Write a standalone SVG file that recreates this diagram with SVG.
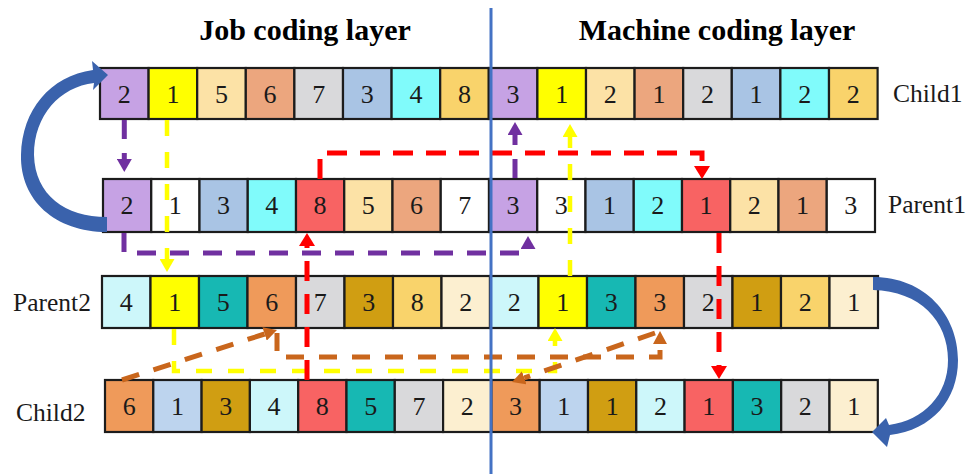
<svg xmlns="http://www.w3.org/2000/svg" width="969" height="474" viewBox="0 0 969 474">
  <style>
    .cell rect { stroke: #1c1c1c; stroke-width: 2.2; }
    .cell text { font-family: "Liberation Serif", "Times New Roman", serif; font-size: 26px; fill: #1a1a1a; text-anchor: middle; }
    .label { font-family: "Liberation Serif", "Times New Roman", serif; font-size: 25.5px; fill: #1a1a1a; }
    .title { font-family: "Liberation Serif", "Times New Roman", serif; font-size: 30px; font-weight: bold; fill: #000; text-anchor: middle; }
    .pu { fill: #C6A2E4; } .ye { fill: #FFFF00; } .pe { fill: #FCE2A6; } .sa { fill: #ECA67E; }
    .gr { fill: #D9D9DB; } .lb { fill: #A9C4E4; } .cy { fill: #80FBFB; } .go { fill: #F9D36B; }
    .wh { fill: #FFFFFF; } .rd { fill: #F86363; } .lc { fill: #CDF7FA; } .te { fill: #17B8B3; }
    .or { fill: #EF9A5A; } .dg { fill: #D09E12; } .cr { fill: #FCEFD0; } .lb2 { fill: #BDD4EE; }
    .link { fill: none; }
    .purple { stroke: #7030A0; stroke-width: 5; stroke-dasharray: 19 14; marker-end: url(#ah-pu); }
    .yellow { stroke: #FFFF00; stroke-width: 4.5; stroke-dasharray: 16 16; marker-end: url(#ah-ye); }
    .red { stroke: #FF0000; stroke-width: 5; stroke-dasharray: 20 13; marker-end: url(#ah-rd); }
    .orange { stroke: #C9661C; stroke-width: 5; stroke-dasharray: 18 15; marker-end: url(#ah-or); }
    .swap { fill: #3A62AC; }
  </style>
  <defs>
    <marker id="ah-pu" viewBox="0 0 13 15" refX="0" refY="7.5" markerWidth="13" markerHeight="15" markerUnits="userSpaceOnUse" orient="auto"><path d="M0,0 L13,7.5 L0,15 Z" fill="#7030A0"/></marker>
    <marker id="ah-ye" viewBox="0 0 13 15" refX="0" refY="7.5" markerWidth="13" markerHeight="15" markerUnits="userSpaceOnUse" orient="auto"><path d="M0,0 L13,7.5 L0,15 Z" fill="#FFFF00"/></marker>
    <marker id="ah-rd" viewBox="0 0 13 16" refX="0" refY="8" markerWidth="13" markerHeight="16" markerUnits="userSpaceOnUse" orient="auto"><path d="M0,0 L13,8 L0,16 Z" fill="#FF0000"/></marker>
    <marker id="ah-or" viewBox="0 0 13 14" refX="0" refY="7" markerWidth="13" markerHeight="14" markerUnits="userSpaceOnUse" orient="auto"><path d="M0,0 L13,7 L0,14 Z" fill="#C9661C"/></marker>
  </defs>

  <rect width="969" height="474" fill="#FFFFFF"/>

  <!-- layer headings -->
  <text class="title" x="305" y="40">Job coding layer</text>
  <text class="title" x="717" y="40">Machine coding layer</text>

  <!-- Child1 chromosome -->
  <g id="child1">
    <g id="child1-1" class="cell" transform="translate(100,68)"><rect class="pu" width="48.6" height="51"/><text x="24.3" y="34.5">2</text></g>
    <g id="child1-2" class="cell" transform="translate(148.6,68)"><rect class="ye" width="48.6" height="51"/><text x="24.3" y="34.5">1</text></g>
    <g id="child1-3" class="cell" transform="translate(197.2,68)"><rect class="pe" width="48.6" height="51"/><text x="24.3" y="34.5">5</text></g>
    <g id="child1-4" class="cell" transform="translate(245.8,68)"><rect class="sa" width="48.6" height="51"/><text x="24.3" y="34.5">6</text></g>
    <g id="child1-5" class="cell" transform="translate(294.4,68)"><rect class="gr" width="48.6" height="51"/><text x="24.3" y="34.5">7</text></g>
    <g id="child1-6" class="cell" transform="translate(343,68)"><rect class="lb" width="48.6" height="51"/><text x="24.3" y="34.5">3</text></g>
    <g id="child1-7" class="cell" transform="translate(391.6,68)"><rect class="cy" width="48.6" height="51"/><text x="24.3" y="34.5">4</text></g>
    <g id="child1-8" class="cell" transform="translate(440.2,68)"><rect class="go" width="48.6" height="51"/><text x="24.3" y="34.5">8</text></g>
    <g id="child1-9" class="cell" transform="translate(488.8,68)"><rect class="pu" width="48.6" height="51"/><text x="24.3" y="34.5">3</text></g>
    <g id="child1-10" class="cell" transform="translate(537.4,68)"><rect class="ye" width="48.6" height="51"/><text x="24.3" y="34.5">1</text></g>
    <g id="child1-11" class="cell" transform="translate(586,68)"><rect class="pe" width="48.6" height="51"/><text x="24.3" y="34.5">2</text></g>
    <g id="child1-12" class="cell" transform="translate(634.6,68)"><rect class="sa" width="48.6" height="51"/><text x="24.3" y="34.5">1</text></g>
    <g id="child1-13" class="cell" transform="translate(683.2,68)"><rect class="gr" width="48.6" height="51"/><text x="24.3" y="34.5">2</text></g>
    <g id="child1-14" class="cell" transform="translate(731.8,68)"><rect class="lb" width="48.6" height="51"/><text x="24.3" y="34.5">1</text></g>
    <g id="child1-15" class="cell" transform="translate(780.4,68)"><rect class="cy" width="48.6" height="51"/><text x="24.3" y="34.5">2</text></g>
    <g id="child1-16" class="cell" transform="translate(829,68)"><rect class="go" width="48.6" height="51"/><text x="24.3" y="34.5">2</text></g>
    <text class="label" x="893" y="102">Child1</text>
  </g>

  <!-- Parent1 chromosome -->
  <g id="parent1">
    <g id="parent1-1" class="cell" transform="translate(103,179)"><rect class="pu" width="48.25" height="53"/><text x="24.1" y="35">2</text></g>
    <g id="parent1-2" class="cell" transform="translate(151.25,179)"><rect class="wh" width="48.25" height="53"/><text x="24.1" y="35">1</text></g>
    <g id="parent1-3" class="cell" transform="translate(199.5,179)"><rect class="lb" width="48.25" height="53"/><text x="24.1" y="35">3</text></g>
    <g id="parent1-4" class="cell" transform="translate(247.75,179)"><rect class="cy" width="48.25" height="53"/><text x="24.1" y="35">4</text></g>
    <g id="parent1-5" class="cell" transform="translate(296,179)"><rect class="rd" width="48.25" height="53"/><text x="24.1" y="35">8</text></g>
    <g id="parent1-6" class="cell" transform="translate(344.25,179)"><rect class="pe" width="48.25" height="53"/><text x="24.1" y="35">5</text></g>
    <g id="parent1-7" class="cell" transform="translate(392.5,179)"><rect class="sa" width="48.25" height="53"/><text x="24.1" y="35">6</text></g>
    <g id="parent1-8" class="cell" transform="translate(440.75,179)"><rect class="wh" width="48.25" height="53"/><text x="24.1" y="35">7</text></g>
    <g id="parent1-9" class="cell" transform="translate(489,179)"><rect class="pu" width="48.25" height="53"/><text x="24.1" y="35">3</text></g>
    <g id="parent1-10" class="cell" transform="translate(537.25,179)"><rect class="wh" width="48.25" height="53"/><text x="24.1" y="35">3</text></g>
    <g id="parent1-11" class="cell" transform="translate(585.5,179)"><rect class="lb" width="48.25" height="53"/><text x="24.1" y="35">1</text></g>
    <g id="parent1-12" class="cell" transform="translate(633.75,179)"><rect class="cy" width="48.25" height="53"/><text x="24.1" y="35">2</text></g>
    <g id="parent1-13" class="cell" transform="translate(682,179)"><rect class="rd" width="48.25" height="53"/><text x="24.1" y="35">1</text></g>
    <g id="parent1-14" class="cell" transform="translate(730.25,179)"><rect class="pe" width="48.25" height="53"/><text x="24.1" y="35">2</text></g>
    <g id="parent1-15" class="cell" transform="translate(778.5,179)"><rect class="sa" width="48.25" height="53"/><text x="24.1" y="35">1</text></g>
    <g id="parent1-16" class="cell" transform="translate(826.75,179)"><rect class="wh" width="48.25" height="53"/><text x="24.1" y="35">3</text></g>
    <text class="label" x="888" y="213">Parent1</text>
  </g>

  <!-- Parent2 chromosome -->
  <g id="parent2">
    <text class="label" x="13" y="311">Parent2</text>
    <g id="parent2-1" class="cell" transform="translate(102,276)"><rect class="lc" width="48.5" height="52"/><text x="24.25" y="35">4</text></g>
    <g id="parent2-2" class="cell" transform="translate(150.5,276)"><rect class="ye" width="48.5" height="52"/><text x="24.25" y="35">1</text></g>
    <g id="parent2-3" class="cell" transform="translate(199,276)"><rect class="te" width="48.5" height="52"/><text x="24.25" y="35">5</text></g>
    <g id="parent2-4" class="cell" transform="translate(247.5,276)"><rect class="or" width="48.5" height="52"/><text x="24.25" y="35">6</text></g>
    <g id="parent2-5" class="cell" transform="translate(296,276)"><rect class="gr" width="48.5" height="52"/><text x="24.25" y="35">7</text></g>
    <g id="parent2-6" class="cell" transform="translate(344.5,276)"><rect class="dg" width="48.5" height="52"/><text x="24.25" y="35">3</text></g>
    <g id="parent2-7" class="cell" transform="translate(393,276)"><rect class="go" width="48.5" height="52"/><text x="24.25" y="35">8</text></g>
    <g id="parent2-8" class="cell" transform="translate(441.5,276)"><rect class="cr" width="48.5" height="52"/><text x="24.25" y="35">2</text></g>
    <g id="parent2-9" class="cell" transform="translate(490,276)"><rect class="lc" width="48.5" height="52"/><text x="24.25" y="35">2</text></g>
    <g id="parent2-10" class="cell" transform="translate(538.5,276)"><rect class="ye" width="48.5" height="52"/><text x="24.25" y="35">1</text></g>
    <g id="parent2-11" class="cell" transform="translate(587,276)"><rect class="te" width="48.5" height="52"/><text x="24.25" y="35">3</text></g>
    <g id="parent2-12" class="cell" transform="translate(635.5,276)"><rect class="or" width="48.5" height="52"/><text x="24.25" y="35">3</text></g>
    <g id="parent2-13" class="cell" transform="translate(684,276)"><rect class="gr" width="48.5" height="52"/><text x="24.25" y="35">2</text></g>
    <g id="parent2-14" class="cell" transform="translate(732.5,276)"><rect class="dg" width="48.5" height="52"/><text x="24.25" y="35">1</text></g>
    <g id="parent2-15" class="cell" transform="translate(781,276)"><rect class="go" width="48.5" height="52"/><text x="24.25" y="35">2</text></g>
    <g id="parent2-16" class="cell" transform="translate(829.5,276)"><rect class="cr" width="48.5" height="52"/><text x="24.25" y="35">1</text></g>
  </g>

  <!-- Child2 chromosome -->
  <g id="child2">
    <text class="label" x="16" y="421">Child2</text>
    <g id="child2-1" class="cell" transform="translate(105,380)"><rect class="or" width="48.3" height="52"/><text x="24.15" y="35">6</text></g>
    <g id="child2-2" class="cell" transform="translate(153.3,380)"><rect class="lb2" width="48.3" height="52"/><text x="24.15" y="35">1</text></g>
    <g id="child2-3" class="cell" transform="translate(201.6,380)"><rect class="dg" width="48.3" height="52"/><text x="24.15" y="35">3</text></g>
    <g id="child2-4" class="cell" transform="translate(249.9,380)"><rect class="lc" width="48.3" height="52"/><text x="24.15" y="35">4</text></g>
    <g id="child2-5" class="cell" transform="translate(298.2,380)"><rect class="rd" width="48.3" height="52"/><text x="24.15" y="35">8</text></g>
    <g id="child2-6" class="cell" transform="translate(346.5,380)"><rect class="te" width="48.3" height="52"/><text x="24.15" y="35">5</text></g>
    <g id="child2-7" class="cell" transform="translate(394.8,380)"><rect class="gr" width="48.3" height="52"/><text x="24.15" y="35">7</text></g>
    <g id="child2-8" class="cell" transform="translate(443.1,380)"><rect class="cr" width="48.3" height="52"/><text x="24.15" y="35">2</text></g>
    <g id="child2-9" class="cell" transform="translate(491.4,380)"><rect class="or" width="48.3" height="52"/><text x="24.15" y="35">3</text></g>
    <g id="child2-10" class="cell" transform="translate(539.7,380)"><rect class="lb2" width="48.3" height="52"/><text x="24.15" y="35">1</text></g>
    <g id="child2-11" class="cell" transform="translate(588,380)"><rect class="dg" width="48.3" height="52"/><text x="24.15" y="35">1</text></g>
    <g id="child2-12" class="cell" transform="translate(636.3,380)"><rect class="lc" width="48.3" height="52"/><text x="24.15" y="35">2</text></g>
    <g id="child2-13" class="cell" transform="translate(684.6,380)"><rect class="rd" width="48.3" height="52"/><text x="24.15" y="35">1</text></g>
    <g id="child2-14" class="cell" transform="translate(732.9,380)"><rect class="te" width="48.3" height="52"/><text x="24.15" y="35">3</text></g>
    <g id="child2-15" class="cell" transform="translate(781.2,380)"><rect class="gr" width="48.3" height="52"/><text x="24.15" y="35">2</text></g>
    <g id="child2-16" class="cell" transform="translate(829.5,380)"><rect class="cr" width="48.3" height="52"/><text x="24.15" y="35">1</text></g>
  </g>

  <!-- gene transfer links and swap arrows -->
  <g id="connectors">
    <path class="swap" d="M107 232 C55 232 20 200 21 155 C22 110 50 76 93 70 L92 61 L108 75 L93 90 L94 83 C60 87 34 115 34 155 C35 195 65 217 107 217 Z"/>
    <path class="swap" d="M873 277 C925 277 958 315 958 360 C958 400 932 430 890 435 L887 447 L872 432 L886 418 L889 425 C924 420 948 395 948 360 C948 321 920 291 873 290 Z"/>

    <path class="link purple" d="M124.3 120 V159"/>
    <path class="link purple" d="M124 233 V253 H528 V249"/>
    <path class="link purple" d="M515 178 V135"/>

    <path class="link yellow" d="M167 120 V259"/>
    <path class="link yellow" d="M174 329 V371 H555 V341"/>
    <path class="link yellow" d="M570 276 V137"/>

    <path class="link red" d="M320 179 V153 H702 V166"/>
    <path class="link red" d="M719 233 V366"/>
    <path class="link red" d="M307 380 V246"/>

    <path class="link orange" d="M122 380 L264.6 334"/>
    <path class="link orange" d="M277 333 V357 H660 V344"/>
    <path class="link orange" d="M655 333 L524.3 377.8"/>
  </g>

  <!-- layer divider -->
  <line x1="491" y1="8" x2="491" y2="474" stroke="#4472C4" stroke-width="3"/>
</svg>
